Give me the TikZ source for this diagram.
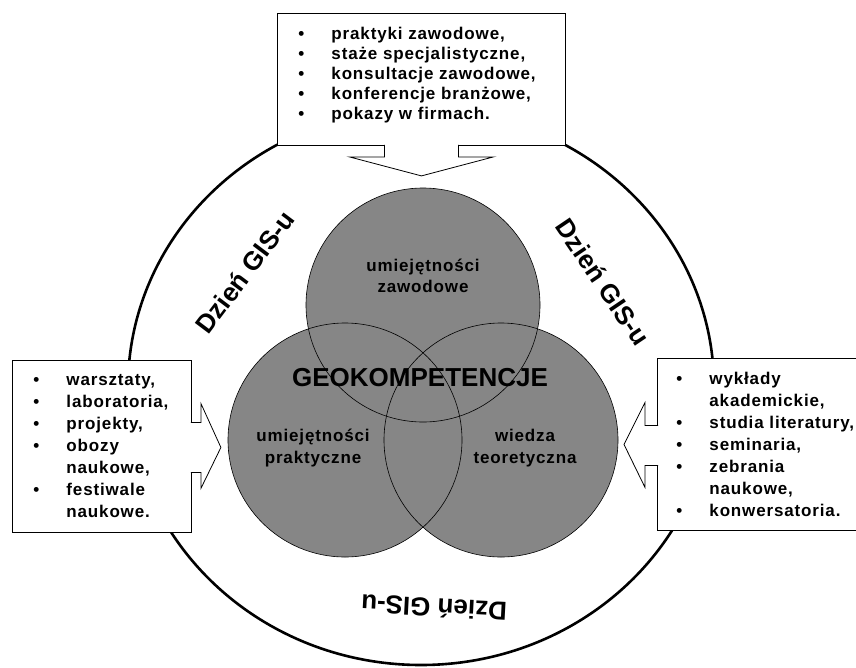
\documentclass[tikz,border=0pt]{standalone}
\usepackage{fontspec}
\setmainfont{Liberation Sans}
\newfontfamily\listfont{Liberation Sans}[LetterSpace=5]
\usetikzlibrary{calc}
\definecolor{venngray}{RGB}{134,134,134}
\tikzset{
  listbox/.style={draw,line width=0.9pt,fill=white,anchor=north west,align=left,inner xsep=21pt},
  barrow/.style={draw,fill=white,line width=0.8pt,line join=miter},
  venntext/.style={align=center,font=\listfont\bfseries\fontsize{17}{21.5}\selectfont},
  dzien/.style={font=\bfseries\fontsize{26}{30}\selectfont}
}
\newcommand\pkt[1]{\makebox[33pt][l]{\textbullet}#1}
\newcommand\dalej[1]{\hspace*{33pt}#1}
\begin{document}
\begin{tikzpicture}[x=1pt,y=-1pt]
\useasboundingbox (0,0) rectangle (856,667);
\draw[line width=2.6pt] (421,387) ellipse [x radius=293, y radius=278];
% kola
\coordinate (cz) at (423,305);
\coordinate (cp) at (345,440);
\coordinate (ct) at (501,440);
\foreach \c in {cz,cp,ct} \fill[venngray] (\c) circle[radius=117pt];
\foreach \c in {cz,cp,ct} \draw[line width=0.6pt] (\c) circle[radius=117pt];
\node[venntext] (zawod) at (423,276) {umiejętności\\zawodowe};
\node[venntext] (prakt) at (313,448) {umiejętności\\praktyczne};
\node[venntext] (wiedza) at (525,448) {wiedza\\teoretyczna};
\node[font=\bfseries\fontsize{26}{30}\selectfont] (geo) at (420,378) {GEOKOMPETENCJE};
\node[dzien,rotate=53] (dz1) at (245,272) {Dzień GIS-u};
\node[dzien,rotate=-56] (dz2) at (603,282) {Dzień GIS-u};
\node[dzien,rotate=177] (dz3) at (434,608) {Dzień GIS-u};
% ramki
\node[listbox,minimum width=288pt,minimum height=132pt,text width=246pt,
  font=\listfont\bfseries\fontsize{17}{20}\selectfont] (zaw) at (277,13)
  {\pkt{praktyki zawodowe,}\\\pkt{staże specjalistyczne,}\\\pkt{konsultacje zawodowe,}\\
   \pkt{konferencje branżowe,}\\\pkt{pokazy w firmach.}\\[-8pt]\mbox{}};
\node[listbox,minimum width=177pt,minimum height=172pt,text width=137pt,
  font=\listfont\bfseries\fontsize{17}{22}\selectfont] (prak) at (12,360)
  {\pkt{warsztaty,}\\\pkt{laboratoria,}\\\pkt{projekty,}\\\pkt{obozy}\\\dalej{naukowe,}\\
   \pkt{festiwale}\\\dalej{naukowe.}};
\node[listbox,minimum width=202pt,minimum height=172pt,text width=190pt,inner xsep=19pt,
  font=\listfont\bfseries\fontsize{17}{22}\selectfont] (teor) at (657,358)
  {\pkt{wykłady}\\\dalej{akademickie,}\\\pkt{studia literatury,}\\\pkt{seminaria,}\\
   \pkt{zebrania}\\\dalej{naukowe,}\\\pkt{konwersatoria.}};
% strzalki
\draw[barrow] ($(zaw.south)+(-37,-1)$) -- ($(zaw.south)+(-37,11)$) -- ($(zaw.south)+(-72,11)$)
  -- ($(zaw.south)+(0,30)$) -- ($(zaw.south)+(72,11)$) -- ($(zaw.south)+(37,11)$) -- ($(zaw.south)+(37,-1)$);
\draw[barrow] ($(prak.east)+(-1,-24)$) -- ($(prak.east)+(9,-24)$) -- ($(prak.east)+(9,-43)$)
  -- ($(prak.east)+(29,1)$) -- ($(prak.east)+(9,42)$) -- ($(prak.east)+(9,26)$) -- ($(prak.east)+(-1,26)$);
\draw[barrow] ($(teor.west)+(1,-19)$) -- ($(teor.west)+(-12,-19)$) -- ($(teor.west)+(-12,-42)$)
  -- ($(teor.west)+(-33,0)$) -- ($(teor.west)+(-12,43)$) -- ($(teor.west)+(-12,21)$) -- ($(teor.west)+(1,21)$);
\end{tikzpicture}
\end{document}
